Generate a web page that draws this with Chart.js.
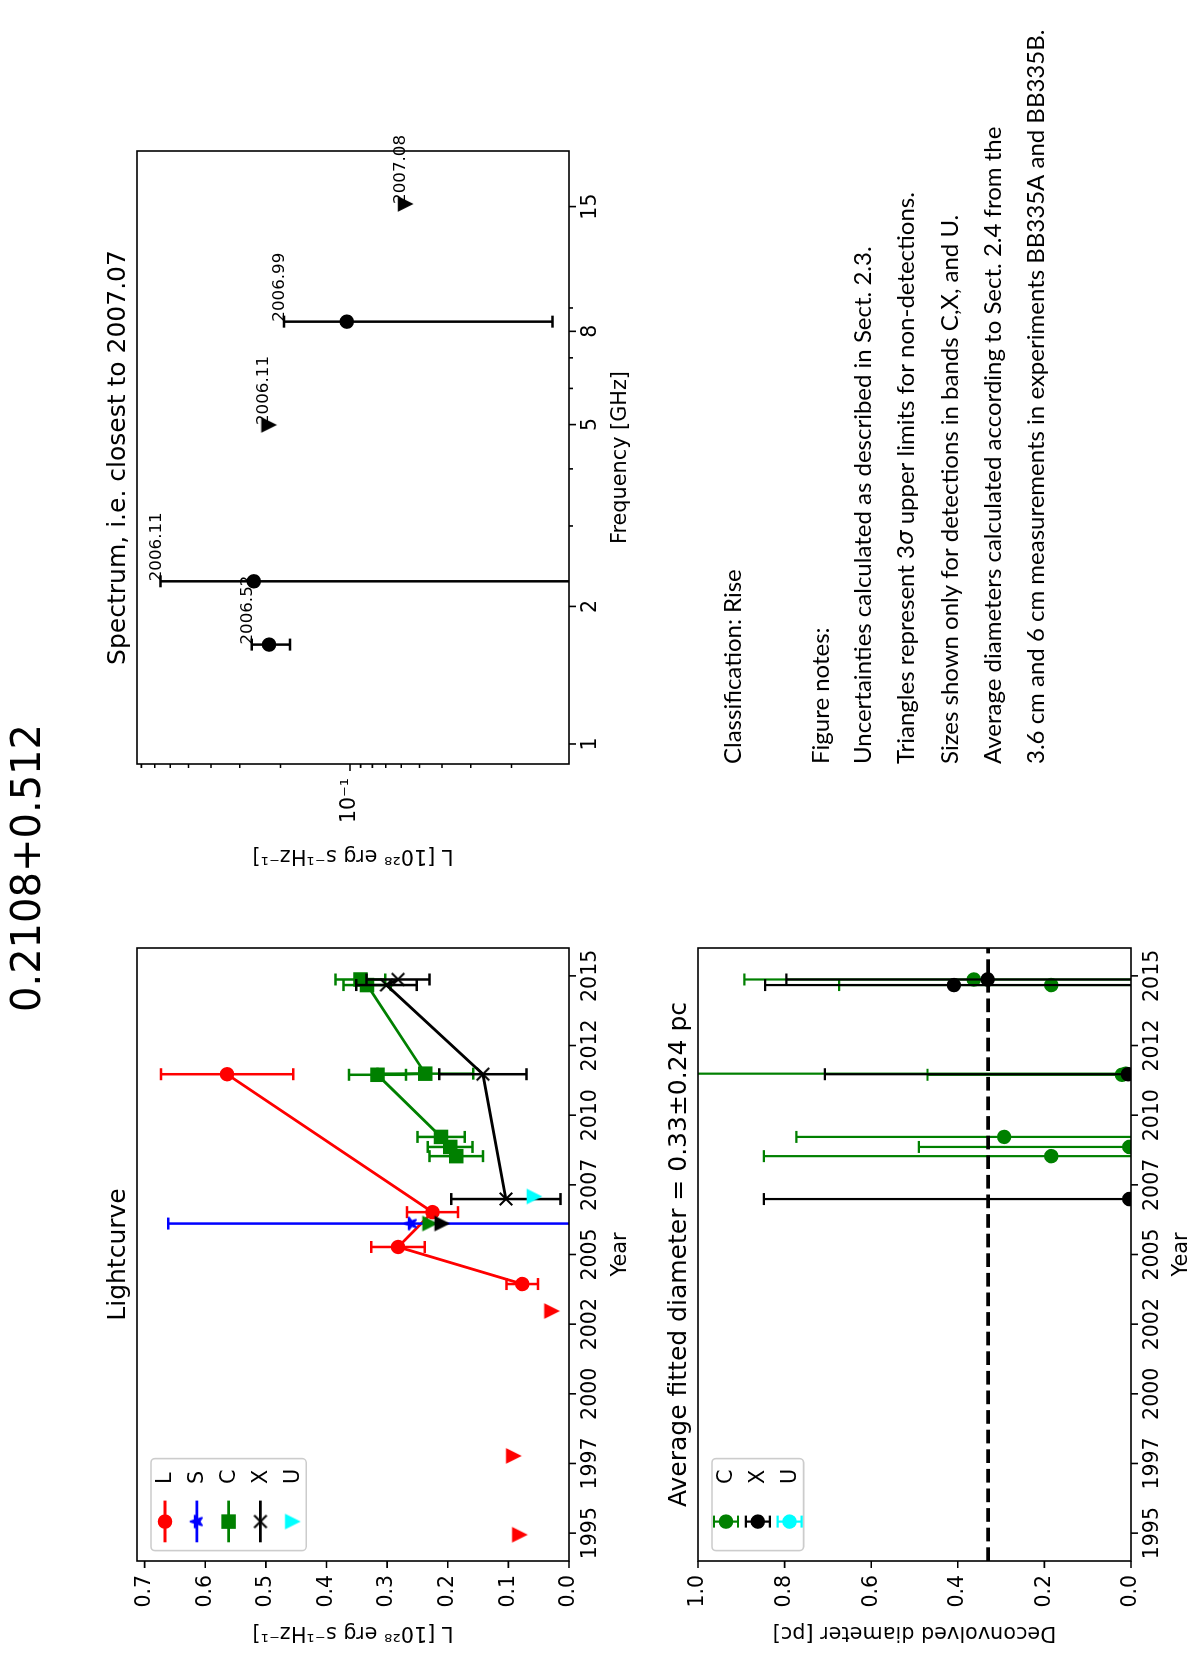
<!DOCTYPE html>
<html>
<head>
<meta charset="utf-8">
<title>0.2108+0.512</title>
<script src="https://cdn.jsdelivr.net/npm/chart.js@4.4.1/dist/chart.umd.min.js"></script>
<style>
  html, body { margin: 0; padding: 0; background: #fff; overflow: hidden; width: 1200px; height: 1654px; }
  /* the figure is laid out landscape and turned a quarter to the left */
  #page { position: absolute; left: 0; top: 0; width: 1654px; height: 1200px; background: #fff;
          transform-origin: 0 0; transform: translateY(1654px) rotate(-90deg); }
  #page canvas { position: absolute; left: 0; top: 0; }
</style>
</head>
<body>
<div id="page">
  <canvas id="lightcurve" width="1654" height="1200"></canvas>
  <canvas id="sizes" width="1654" height="1200"></canvas>
  <canvas id="spectrum" width="1654" height="1200"></canvas>
</div>
<script>
// ---- lightcurve (L in 1e28 erg/s/Hz) ----
const lYear = [2003.94, 2005.27, 2006.52, 2011.47];
const lLum = [0.077, 0.282, 0.225, 0.564];
const lErr = [0.026, 0.044, 0.042, 0.109];
const lLimYear = [1994.94, 1997.77, 2002.97];
const lLim = [0.082, 0.092, 0.029];

const sYear = [2006.11];
const sLum = [0.261];
const sErr = [0.40];

const cYear = [2008.53, 2008.86, 2009.22, 2011.45, 2011.49, 2014.67, 2014.87];
const cLum = [0.186, 0.196, 0.211, 0.316, 0.237, 0.333, 0.344];
const cErr = [0.044, 0.037, 0.039, 0.047, 0.079, 0.039, 0.041];
const cLimYear = [2006.11];
const cLim = [0.23];

const xYear = [2006.99, 2011.47, 2014.67, 2014.87];
const xLum = [0.104, 0.142, 0.301, 0.282];
const xErr = [0.090, 0.072, 0.050, 0.052];
const xLimYear = [2006.11];
const xLim = [0.21];

const uLimYear = [2007.08];
const uLim = [0.058];

// ---- deconvolved sizes [pc] ----
const cSizeYear = [2008.53, 2008.86, 2009.22, 2011.45, 2011.49, 2014.67, 2014.87];
const cSize = [0.184, 0.004, 0.293, 0.021, 0.012, 0.184, 0.363];
const cSizeErr = [0.664, 0.486, 0.48, 0.449, 1.3, 0.49, 0.53];
const xSizeYear = [2006.99, 2011.47, 2014.67, 2014.87];
const xSize = [0.004, 0.007, 0.409, 0.331];
const xSizeErr = [0.844, 0.70, 0.436, 0.465];
const meanSize = 0.33;
const meanSizeErr = 0.24;

// ---- spectrum closest to 2007.07 ----
const specFreq = [1.65, 2.27, 4.99, 8.4, 15.2];
const specLum = [0.224, 0.261, 0.2255, 0.1033, 0.0578];
const specErr = [0.042, 0.40, 0, 0.090, 0];
const specUpper = [false, false, true, false, true];
const specEpoch = ['2006.52', '2006.11', '2006.11', '2006.99', '2007.08'];

// ---- ticks ----
const yearTicks = [1995, 1997.5, 2000, 2002.5, 2005, 2007.5, 2010, 2012.5, 2015];
const yearTickLabels = ['1995', '1997', '2000', '2002', '2005', '2007', '2010', '2012', '2015'];
const lumTicks = [0, 0.1, 0.2, 0.3, 0.4, 0.5, 0.6, 0.7];
const lumTickLabels = ['0.0', '0.1', '0.2', '0.3', '0.4', '0.5', '0.6', '0.7'];
const sizeTicks = [0, 0.2, 0.4, 0.6, 0.8, 1.0];
const sizeTickLabels = ['0.0', '0.2', '0.4', '0.6', '0.8', '1.0'];
const freqTicks = [1, 2, 5, 8, 15];
const freqTickLabels = ['1', '2', '5', '8', '15'];
const freqMinor = [3, 4, 6, 7, 9];
const specLumTicks = [0.1];
const specLumTickLabels = ['10\u207B\u00B9'];
const specLumMinor = [0.02, 0.03, 0.04, 0.05, 0.06, 0.07, 0.08, 0.09, 0.2, 0.3, 0.4, 0.5, 0.6, 0.7, 0.8];

const notes = [
  'Figure notes:',
  'Uncertainties calculated as described in Sect. 2.3.',
  'Triangles represent 3\u03C3 upper limits for non-detections.',
  'Sizes shown only for detections in bands C,X, and U.',
  'Average diameters calculated according to Sect. 2.4 from the',
  '3.6 cm and 6 cm measurements in experiments BB335A and BB335B.'
];

Chart.defaults.font.family = "'DejaVu Sans', sans-serif";
Chart.defaults.font.size = 20.5;
Chart.defaults.color = '#000';

const RED = '#ff0000', BLUE = '#0000ff', GREEN = '#008000', BLACK = '#000000', CYAN = '#00ffff';
const LUM_LABEL = 'L [10\u00B2\u2078 erg s\u207B\u00B9Hz\u207B\u00B9]';

// matplotlib-like markers that chart.js has no shape for
function marker(kind, color) {
  const c = document.createElement('canvas');
  c.width = c.height = 20;
  const g = c.getContext('2d');
  const m = 10, r = 6.25;
  g.fillStyle = color;
  g.strokeStyle = color;
  g.lineWidth = 2;
  g.beginPath();
  if (kind === 'v') {
    g.moveTo(m - r, m - r); g.lineTo(m + r, m - r); g.lineTo(m, m + r); g.closePath();
    g.fill(); g.stroke();
  } else if (kind === '*') {
    g.lineJoin = 'round';
    for (let k = 0; k < 10; k++) {
      const a = -Math.PI / 2 + k * Math.PI / 5, rr = k % 2 ? r * 0.382 : r;
      g.lineTo(m + rr * Math.cos(a), m + rr * Math.sin(a));
    }
    g.closePath(); g.fill(); g.stroke();
  } else if (kind === 'x') {
    g.moveTo(m - r, m - r); g.lineTo(m + r, m + r);
    g.moveTo(m - r, m + r); g.lineTo(m + r, m - r);
    g.stroke();
  }
  return c;
}

function pts(xs, ys) { return xs.map((x, i) => ({x: x, y: ys[i]})); }

function series(data, color, style, extra) {
  const ds = {
    data: data, borderColor: color, backgroundColor: color,
    pointBackgroundColor: color, pointBorderColor: color,
    pointStyle: style, pointRadius: 6.25, pointBorderWidth: 2,
    showLine: false, borderWidth: 2.8, clip: 0
  };
  if (style === 'rect') ds.pointRadius = 8.84;
  if (typeof style !== 'string') ds.pointRadius = 7;
  return Object.assign(ds, extra || {});
}

// later datasets on top, like matplotlib
function stack(datasets) {
  datasets.forEach((d, i) => { d.order = datasets.length - i; });
  return datasets;
}

function fixedTicks(values, labels, minor) {
  minor = minor || [];
  return {
    afterBuildTicks(scale) {
      scale.ticks = values.map(v => ({value: v}))
        .concat(minor.map(v => ({value: v, minor: true})))
        .sort((a, b) => a.value - b.value);
    },
    ticks: {
      autoSkip: false, maxRotation: 0, minRotation: 0,
      callback(value) { const i = values.indexOf(value); return i >= 0 ? labels[i] : ''; }
    }
  };
}

function axis(base, extra) {
  const out = Object.assign({
    grid: {display: false, drawTicks: true, tickLength: 7},
    border: {display: false}
  }, base, extra);
  out.ticks = Object.assign({}, base.ticks, extra.ticks);
  return out;
}

const yearAxis = (height) => axis(fixedTicks(yearTicks, yearTickLabels), {
  type: 'linear', min: 1994, max: 2016,
  ticks: {padding: 2},
  title: {display: true, text: 'Year', font: {size: 20.8}, padding: 0},
  afterFit(s) { s.height = height; }
});

// error bars drawn under each dataset
const errorBars = {
  id: 'errorBars',
  beforeDatasetDraw(chart, args) {
    const ds = chart.data.datasets[args.index];
    if (!ds.errors) return;
    const {ctx, chartArea: a} = chart;
    const xs = chart.scales.x, ys = chart.scales.y;
    ctx.save();
    ctx.beginPath();
    ctx.rect(a.left, a.top, a.width, a.height);
    ctx.clip();
    ctx.strokeStyle = ds.borderColor;
    ctx.lineWidth = ds.errorWidth || 2.5;
    ds.data.forEach((p, i) => {
      const e = ds.errors[i];
      if (!e) return;
      const px = xs.getPixelForValue(p.x);
      const top = ys.getPixelForValue(p.y + e);
      const lo = p.y - e;
      const bot = (ys.type === 'logarithmic' && lo <= 0) ? a.bottom + 20 : ys.getPixelForValue(lo);
      ctx.beginPath();
      ctx.moveTo(px, top); ctx.lineTo(px, bot);
      ctx.moveTo(px - 6, top); ctx.lineTo(px + 6, top);
      ctx.moveTo(px - 6, bot); ctx.lineTo(px + 6, bot);
      ctx.stroke();
    });
    ctx.restore();
  }
};

// frame, outward ticks and axes title
const mplAxes = {
  id: 'mplAxes',
  afterDraw(chart, args, opts) {
    const {ctx, chartArea: a} = chart;
    const xs = chart.scales.x, ys = chart.scales.y;
    ctx.save();
    ctx.strokeStyle = '#000';
    ctx.lineWidth = 1.6;
    ctx.beginPath();
    xs.ticks.forEach(t => {
      const px = xs.getPixelForValue(t.value);
      ctx.moveTo(px, a.bottom); ctx.lineTo(px, a.bottom + (t.minor ? 4 : 7));
    });
    ys.ticks.forEach(t => {
      const py = ys.getPixelForValue(t.value);
      ctx.moveTo(a.left, py); ctx.lineTo(a.left - (t.minor ? 4 : 7), py);
    });
    ctx.stroke();
    ctx.strokeRect(a.left, a.top, a.width, a.height);
    if (opts.title) {
      ctx.fillStyle = '#000';
      ctx.font = "25px 'DejaVu Sans'";
      ctx.textAlign = 'center';
      ctx.textBaseline = 'alphabetic';
      ctx.fillText(opts.title, (a.left + a.right) / 2, a.top - 12.5);
    }
    ctx.restore();
  }
};

function drawHandleMarker(ctx, style, color, x, y) {
  ctx.fillStyle = color;
  ctx.strokeStyle = color;
  ctx.lineWidth = 2;
  if (typeof style !== 'string') {
    ctx.drawImage(style, x - style.width / 2, y - style.height / 2);
  } else if (style === 'rect') {
    ctx.fillRect(x - 6.25, y - 6.25, 12.5, 12.5);
    ctx.strokeRect(x - 6.25, y - 6.25, 12.5, 12.5);
  } else {
    ctx.beginPath(); ctx.arc(x, y, 6.25, 0, Math.PI * 2); ctx.fill(); ctx.stroke();
  }
}

// legend box in the upper left corner of the axes
const mplLegend = {
  id: 'mplLegend',
  afterDraw(chart, args, opts) {
    if (!opts.items) return;
    const {ctx, chartArea: a} = chart;
    const left = a.left + 10.4, top = a.top + 14;
    const rows = opts.items.length;
    const w = 92, h = 28 + (rows - 1) * 31.8;
    ctx.save();
    ctx.beginPath();
    ctx.roundRect(left, top, w, h, 4);
    ctx.fillStyle = 'rgba(255,255,255,0.8)';
    ctx.fill();
    ctx.strokeStyle = '#cccccc';
    ctx.lineWidth = 1.6;
    ctx.stroke();
    opts.items.forEach((it, i) => {
      const cy = top + 14 + i * 31.8;
      const hx = left + 29;
      if (it.line) {
        ctx.strokeStyle = it.color; ctx.lineWidth = 2.8;
        ctx.beginPath(); ctx.moveTo(left + 8.3, cy); ctx.lineTo(left + 50, cy); ctx.stroke();
      }
      if (it.errbar) {
        ctx.strokeStyle = it.color; ctx.lineWidth = 2.2;
        ctx.beginPath();
        ctx.moveTo(hx, cy - 12); ctx.lineTo(hx, cy + 12);
        ctx.moveTo(hx - 6, cy - 12); ctx.lineTo(hx + 6, cy - 12);
        ctx.moveTo(hx - 6, cy + 12); ctx.lineTo(hx + 6, cy + 12);
        ctx.stroke();
      }
      drawHandleMarker(ctx, it.marker, it.color, hx, cy);
      ctx.fillStyle = '#000';
      ctx.font = "20.8px 'DejaVu Sans'";
      ctx.textAlign = 'left';
      ctx.textBaseline = 'middle';
      ctx.fillText(it.label, left + 66.6, cy + 1);
    });
    ctx.restore();
  }
};

// epoch written at the top of each spectral point
const epochLabels = {
  id: 'epochLabels',
  afterDatasetsDraw(chart) {
    const {ctx} = chart;
    const xs = chart.scales.x, ys = chart.scales.y;
    ctx.save();
    ctx.fillStyle = '#000';
    ctx.font = "16.7px 'DejaVu Sans'";
    ctx.textAlign = 'left';
    ctx.textBaseline = 'alphabetic';
    chart.data.datasets.forEach(ds => {
      if (!ds.epochs) return;
      ds.data.forEach((p, i) => {
        const e = ds.errors ? ds.errors[i] : 0;
        ctx.fillText(ds.epochs[i], xs.getPixelForValue(p.x), ys.getPixelForValue(p.y + e));
      });
    });
    ctx.restore();
  }
};

// figure title and the notes block
const figureText = {
  id: 'figureText',
  afterDraw(chart, args, opts) {
    if (!opts.show) return;
    const ctx = chart.ctx;
    ctx.save();
    ctx.fillStyle = '#000';
    ctx.textBaseline = 'alphabetic';
    ctx.textAlign = 'center';
    ctx.font = "40px 'DejaVu Sans'";
    ctx.fillText('0.2108+0.512', 786, 40);

    ctx.textAlign = 'left';
    ctx.textBaseline = 'middle';
    const x0 = 890;
    const font = "24px Lato, 'Open Sans', sans-serif";
    ctx.font = font;
    ctx.fillText('Classification: Rise', x0, 733);
    const rows = [821.7, 863.3, 906.7, 950, 993.3, 1036.7];
    notes.forEach((line, i) => {
      const parts = line.split('\u03C3');
      let x = x0;
      parts.forEach((part, k) => {
        ctx.font = font;
        ctx.fillText(part, x, rows[i]);
        x += ctx.measureText(part).width;
        if (k < parts.length - 1) {
          ctx.font = "italic 23px 'DejaVu Sans'";
          ctx.fillText('\u03C3', x, rows[i]);
          x += ctx.measureText('\u03C3').width;
        }
      });
    });
    ctx.restore();
  }
};

Chart.register(errorBars, mplAxes, mplLegend, epochLabels, figureText);

const triRed = marker('v', RED), triGreen = marker('v', GREEN), triBlack = marker('v', BLACK), triCyan = marker('v', CYAN);
const starBlue = marker('*', BLUE), crossBlack = marker('x', BLACK);

const common = {
  responsive: false,
  animation: false,
  events: [],
  plugins: {legend: {display: false}, tooltip: {enabled: false}}
};

// ---------- lightcurve ----------
new Chart(document.getElementById('lightcurve'), {
  type: 'scatter',
  data: {
    datasets: stack([
      series(pts(lYear, lLum), RED, 'circle', {showLine: true, errors: lErr}),
      series(pts(lLimYear, lLim), RED, triRed),
      series(pts(sYear, sLum), BLUE, starBlue, {showLine: true, errors: sErr}),
      series(pts(cYear, cLum), GREEN, 'rect', {showLine: true, errors: cErr}),
      series(pts(cLimYear, cLim), GREEN, triGreen),
      series(pts(xYear, xLum), BLACK, crossBlack, {showLine: true, errors: xErr}),
      series(pts(xLimYear, xLim), BLACK, triBlack),
      series(pts(uLimYear, uLim), CYAN, triCyan)
    ])
  },
  options: Object.assign({}, common, {
    layout: {autoPadding: false, padding: {left: 9.5, top: 137, right: 1654 - 706, bottom: 1200 - 633.5}},
    scales: {
      x: yearAxis(64.5),
      y: axis(fixedTicks(lumTicks, lumTickLabels), {
        type: 'linear', min: 0, max: 0.7125,
        ticks: {padding: 7},
        title: {display: true, text: LUM_LABEL, font: {size: 20.8}, padding: 0},
        afterFit(s) { s.width = 83.5; }
      })
    },
    plugins: Object.assign({}, common.plugins, {
      mplAxes: {title: 'Lightcurve'},
      mplLegend: {items: [
        {label: 'L', color: RED, marker: 'circle', line: true},
        {label: 'S', color: BLUE, marker: starBlue, line: true},
        {label: 'C', color: GREEN, marker: 'rect', line: true},
        {label: 'X', color: BLACK, marker: crossBlack, line: true},
        {label: 'U', color: CYAN, marker: triCyan}
      ]}
    })
  })
});

// ---------- deconvolved sizes ----------
new Chart(document.getElementById('sizes'), {
  type: 'scatter',
  data: {
    datasets: stack([
      series(pts(cSizeYear, cSize), GREEN, 'circle', {errors: cSizeErr, errorWidth: 2.2}),
      series(pts(xSizeYear, xSize), BLACK, 'circle', {errors: xSizeErr, errorWidth: 2.2}),
      {data: [{x: 1994, y: meanSize}, {x: 2016, y: meanSize}], showLine: true, pointRadius: 0,
       borderColor: BLACK, borderWidth: 3.7, borderDash: [13.7, 5.9], clip: 0}
    ])
  },
  options: Object.assign({}, common, {
    layout: {autoPadding: false, padding: {left: 9.5, top: 698, right: 1654 - 706, bottom: 5.5}},
    scales: {
      x: yearAxis(63.5),
      y: axis(fixedTicks(sizeTicks, sizeTickLabels), {
        type: 'linear', min: 0, max: 1,
        ticks: {padding: 7},
        title: {display: true, text: 'Deconvolved diameter [pc]', font: {size: 20.8}, padding: 0},
        afterFit(s) { s.width = 83.5; }
      })
    },
    plugins: Object.assign({}, common.plugins, {
      mplAxes: {title: 'Average fitted diameter = ' + meanSize.toFixed(2) + '\u00B1' + meanSizeErr.toFixed(2) + ' pc'},
      mplLegend: {items: [
        {label: 'C', color: GREEN, marker: 'circle', errbar: true},
        {label: 'X', color: BLACK, marker: 'circle', errbar: true},
        {label: 'U', color: CYAN, marker: 'circle', errbar: true}
      ]}
    })
  })
});

// ---------- spectrum ----------
const det = specFreq.map((f, i) => i).filter(i => !specUpper[i]);
const lim = specFreq.map((f, i) => i).filter(i => specUpper[i]);

new Chart(document.getElementById('spectrum'), {
  type: 'scatter',
  data: {
    datasets: stack([
      series(det.map(i => ({x: specFreq[i], y: specLum[i]})), BLACK, 'circle',
        {errors: det.map(i => specErr[i]), epochs: det.map(i => specEpoch[i])}),
      series(lim.map(i => ({x: specFreq[i], y: specLum[i]})), BLACK, triBlack,
        {epochs: lim.map(i => specEpoch[i])})
    ])
  },
  options: Object.assign({}, common, {
    layout: {autoPadding: false, padding: {left: 786.5, top: 137, right: 1654 - 1503, bottom: 1200 - 633.5}},
    scales: {
      x: axis(fixedTicks(freqTicks, freqTickLabels, freqMinor), {
        type: 'logarithmic', min: 0.904, max: 19.85,
        ticks: {padding: 2},
        title: {display: true, text: 'Frequency [GHz]', font: {size: 20.8}, padding: 0},
        afterFit(s) { s.height = 64.5; }
      }),
      y: axis(fixedTicks(specLumTicks, specLumTickLabels, specLumMinor), {
        type: 'logarithmic', min: 0.01127, max: 0.836,
        ticks: {padding: 7},
        title: {display: true, text: LUM_LABEL, font: {size: 20.8}, padding: 0},
        afterFit(s) { s.width = 103.5; }
      })
    },
    plugins: Object.assign({}, common.plugins, {
      mplAxes: {title: 'Spectrum, i.e. closest to 2007.07'},
      figureText: {show: true}
    })
  })
});
</script>
</body>
</html>
